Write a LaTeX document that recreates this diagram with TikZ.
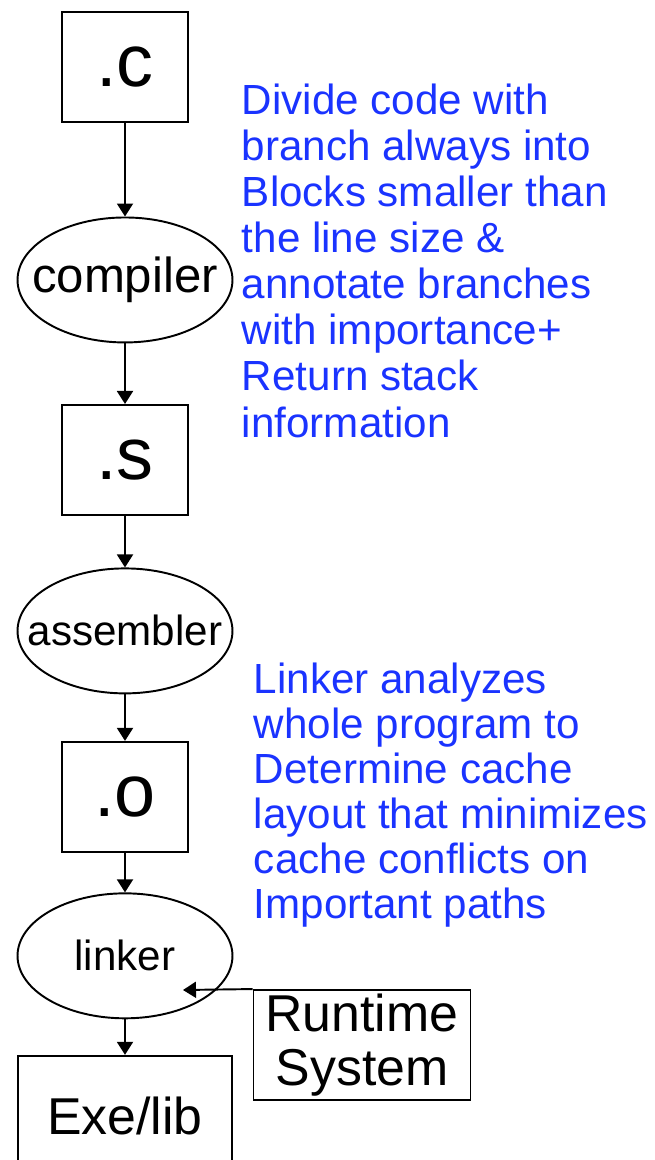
\documentclass[tikz,border=0pt]{standalone}
\usepackage{fontspec}
\setmainfont{Liberation Sans}
\usetikzlibrary{arrows.meta,shapes.geometric}
\definecolor{noteblue}{RGB}{26,51,255}

\begin{document}
\begin{tikzpicture}[x=0.02cm, y=-0.02cm, line width=1.1pt,
		file/.style = {draw, rectangle, minimum width=2.52cm, minimum height=2.2cm, inner sep=0pt, font=\fontsize{42}{46}\selectfont},
		tool/.style = {draw, ellipse, minimum width=4.3cm, minimum height=2.5cm, inner sep=0pt},
		note/.style = {text=noteblue, align=left, inner sep=0pt, anchor=base west},
		every edge/.style = {draw, -{Triangle[length=0.26cm, width=0.32cm]}}]
		\clip (0,0) rectangle (654,1160);
		\node (c) [file] at (125,67) {.c};
		\node (comp) [tool, font=\fontsize{28}{30}\selectfont, node distance = 4.26cm] [below of = c] {\makebox[0pt]{compiler}};
		\node (s) [file, node distance = 3.6cm] [below of = comp] {.s};
		\node (asm) [tool, font=\fontsize{24}{26}\selectfont, node distance = 3.42cm] [below of = s] {\makebox[0pt]{assembler}};
		\node (o) [file, node distance = 3.32cm] [below of = asm] {.o};
		\node (lnk) [tool, font=\fontsize{24}{26}\selectfont, node distance = 3.18cm] [below of = o] {linker};
		\node (exe) [draw, minimum width=4.28cm, minimum height=2.4cm, font=\fontsize{29.5}{31}\selectfont, node distance = 3.2cm] [below of = lnk] {Exe/lib};
		\node (rt) [draw, minimum width=4.34cm, minimum height=2.2cm, inner sep=0pt, align=center, font=\fontsize{29.5}{31}\selectfont] at (362,1045) {Runtime\\System};
		\coordinate (lnkin) at (183,990);
		% base west of a multi-line note is its last line
		\node (note1) [note, font=\fontsize{24}{26.2}\selectfont] at (241,437) {Divide code with\\branch always into\\Blocks smaller than\\the line size \&\\annotate branches\\with importance+\\Return stack\\information};
		\node (note2) [note, font=\fontsize{24}{25.6}\selectfont] at (253,918) {Linker analyzes\\whole program to\\Determine cache\\layout that minimizes\\cache conflicts on\\Important paths};
		\path (c) edge (comp);
		\path (comp) edge (s);
		\path (s) edge (asm);
		\path (asm) edge (o);
		\path (o) edge (lnk);
		\path (lnk) edge (exe);
		\path (rt.north west) edge (lnkin);
\end{tikzpicture}
\end{document}
